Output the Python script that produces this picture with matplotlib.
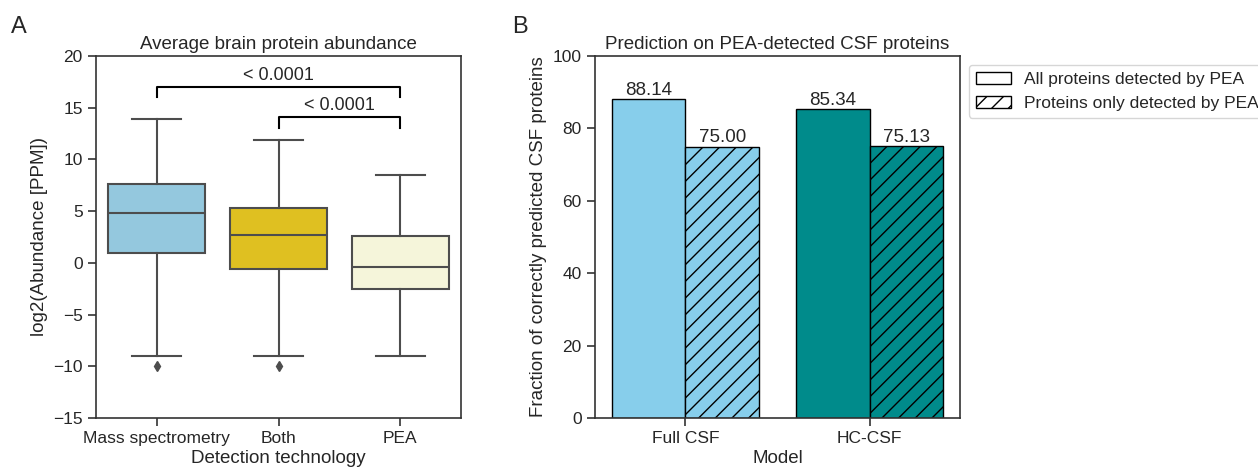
import matplotlib.pyplot as plt
from matplotlib.patches import Patch

plt.rcParams['font.family'] = ['Liberation Sans', 'DejaVu Sans']
plt.rcParams['hatch.linewidth'] = 1.0
plt.rcParams['text.color'] = '#262626'
plt.rcParams['axes.labelcolor'] = '#262626'
plt.rcParams['xtick.labelcolor'] = '#262626'
plt.rcParams['ytick.labelcolor'] = '#262626'

# panel A: box statistics
tech = ['Mass spectrometry', 'Both', 'PEA']
whislo = [-9.0, -9.0, -9.0]
q1 = [1.0, -0.6, -2.5]
med = [4.8, 2.65, -0.4]
q3 = [7.6, 5.3, 2.6]
whishi = [13.9, 11.9, 8.5]
fliers = [[-10.0], [-10.0], []]
box_colors = ['#94c8de', '#dfc021', '#f5f5da']

# panel B: bars
models = ['Full CSF', 'HC-CSF']
all_pea = [88.14, 85.34]
only_pea = [75.00, 75.13]
bar_colors = ['#87ceeb', '#008b8b']
legend_labels = ['All proteins detected by PEA', 'Proteins only detected by PEA']

fig = plt.figure(figsize=(12.58, 4.67), dpi=100)
ax1 = fig.add_axes([96 / 1258, 49 / 467, 365 / 1258, 362 / 467])
ax2 = fig.add_axes([595 / 1258, 49 / 467, 365 / 1258, 362 / 467])

fs = 12.5   # ticks, legend
fl = 13.5   # titles, axis labels, annotations
edge = '#4d4d4d'

stats = []
for i in range(len(tech)):
    stats.append(dict(whislo=whislo[i], q1=q1[i], med=med[i], q3=q3[i],
                      whishi=whishi[i], fliers=fliers[i]))
bp = ax1.bxp(stats, positions=range(len(tech)), widths=0.8, patch_artist=True,
             boxprops=dict(edgecolor=edge, linewidth=1.5),
             medianprops=dict(color=edge, linewidth=1.5),
             whiskerprops=dict(color=edge, linewidth=1.5),
             capprops=dict(color=edge, linewidth=1.5),
             flierprops=dict(marker='d', markerfacecolor=edge,
                             markeredgecolor=edge, markersize=5))
for patch, c in zip(bp['boxes'], box_colors):
    patch.set_facecolor(c)
for cap in bp['caps']:
    mid = cap.get_xdata().mean()
    cap.set_xdata([mid - 0.2, mid + 0.2])

ax1.set_ylim(-15, 20)
ax1.set_xlim(-0.5, 2.5)
ax1.set_yticks(range(-15, 21, 5))
ax1.set_xticks(range(len(tech)))
ax1.set_xticklabels(tech)
ax1.set_ylabel('log2(Abundance [PPM])', fontsize=fl)
ax1.set_xlabel('Detection technology', fontsize=fl, labelpad=3)
ax1.set_title('Average brain protein abundance', fontsize=fl, pad=5)

# significance brackets
for x0, x1, y, h, txt in [(0, 2, 16.0, 1.0, '< 0.0001'), (1, 2, 13.0, 1.1, '< 0.0001')]:
    ax1.plot([x0, x0, x1, x1], [y, y + h, y + h, y], color='black', lw=1.5)
    ax1.text((x0 + x1) / 2, y + h + 0.3, txt, ha='center', va='bottom', fontsize=13)

w = 0.4
for i in range(len(models)):
    ax2.bar(i - w / 2, all_pea[i], width=w, color=bar_colors[i],
            edgecolor='black', linewidth=1)
    ax2.bar(i + w / 2, only_pea[i], width=w, color=bar_colors[i],
            edgecolor='black', linewidth=1, hatch='//')
    ax2.text(i - w / 2, all_pea[i], f'{all_pea[i]:.2f}', ha='center',
             va='bottom', fontsize=fl)
    ax2.text(i + w / 2, only_pea[i], f'{only_pea[i]:.2f}', ha='center',
             va='bottom', fontsize=fl)

ax2.set_ylim(0, 100)
ax2.set_xlim(-0.49, 1.49)
ax2.set_xticks(range(len(models)))
ax2.set_xticklabels(models)
ax2.set_ylabel('Fraction of correctly predicted CSF proteins', fontsize=fl)
ax2.set_xlabel('Model', fontsize=fl, labelpad=3)
ax2.set_title('Prediction on PEA-detected CSF proteins', fontsize=fl, pad=5)

handles = [Patch(facecolor='white', edgecolor='black', label=legend_labels[0]),
           Patch(facecolor='white', edgecolor='black', hatch='//', label=legend_labels[1])]
ax2.legend(handles=handles, loc='upper left', bbox_to_anchor=(1.01, 0.99),
           fontsize=fs, frameon=True, handlelength=2.0, borderaxespad=0.3)

for ax in (ax1, ax2):
    ax.tick_params(labelsize=fs, length=6, width=1.2, color='#333333')
    for s in ax.spines.values():
        s.set_linewidth(1.2)
        s.set_color('#333333')

fig.text(11 / 1258, 1 - 33 / 467, 'A', fontsize=17)
fig.text(512 / 1258, 1 - 33 / 467, 'B', fontsize=17)

plt.savefig('out.png', dpi=100)
